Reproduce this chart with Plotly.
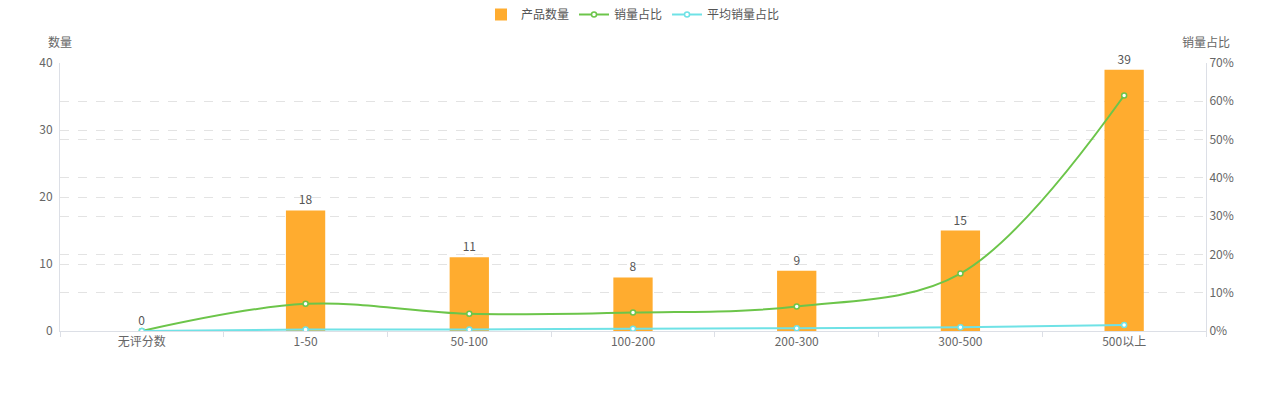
import plotly.graph_objects as go

categories = ["无评分数", "1-50", "50-100", "100-200", "200-300", "300-500", "500以上"]
product_counts = [0, 18, 11, 8, 9, 15, 39]
sales_share = [0.0, 7.1, 4.5, 4.8, 6.4, 15.0, 61.5]
avg_sales_share = [0.0, 0.39, 0.41, 0.6, 0.71, 1.0, 1.58]
left_ticks = [0, 10, 20, 30, 40]
right_ticks = [0, 10, 20, 30, 40, 50, 60, 70]

font_family = "Noto Sans CJK SC, Microsoft YaHei, sans-serif"
axis_color = "#dcdfe6"
grid_color = "#e3e3e3"
text_color = "#666666"

fig = go.Figure()
fig.add_trace(go.Bar(
    x=categories, y=product_counts, name="产品数量",
    marker=dict(color="#FFAC2F", line=dict(width=0)),
    width=0.24,
    text=[str(v) for v in product_counts], textposition="outside",
    textfont=dict(color="#555555", size=12), cliponaxis=False,
    yaxis="y",
))
fig.add_trace(go.Scatter(
    x=categories, y=sales_share, name="销量占比", mode="lines+markers",
    line=dict(color="#6cc54a", width=2, shape="spline", smoothing=1.0),
    marker=dict(symbol="circle", size=5, color="white", line=dict(color="#6cc54a", width=1.5)),
    yaxis="y2",
))
fig.add_trace(go.Scatter(
    x=categories, y=avg_sales_share, name="平均销量占比", mode="lines+markers",
    line=dict(color="#6fe2e6", width=2, shape="spline", smoothing=1.0),
    marker=dict(symbol="circle", size=5, color="white", line=dict(color="#6fe2e6", width=1.5)),
    yaxis="y2",
))

fig.update_layout(
    width=1278, height=400,
    margin=dict(l=60, r=72, t=63, b=69),
    paper_bgcolor="white", plot_bgcolor="white",
    font=dict(family=font_family, size=12, color=text_color),
    showlegend=True,
    legend=dict(orientation="h", x=0.5, xanchor="center", y=1.0, yref="container", yanchor="top",
                font=dict(size=12, color="#555555"), itemwidth=30, tracegroupgap=0),
    bargap=0.76,
    xaxis=dict(
        type="category", showline=True, linecolor=axis_color, linewidth=1,
        ticks="outside", tickson="boundaries", ticklen=5, tickcolor=axis_color,
        showgrid=False, tickfont=dict(color=text_color, size=12),
    ),
    yaxis=dict(
        range=[0, 40], tickvals=left_ticks, showline=True, linecolor=axis_color,
        showgrid=True, gridcolor=grid_color, griddash="dash", zeroline=False,
        tickfont=dict(color=text_color, size=12), ticks="", ticklabelstandoff=4,
    ),
    yaxis2=dict(
        range=[0, 70], tickvals=right_ticks, ticktext=[f"{v}%" for v in right_ticks],
        overlaying="y", side="right", showline=True, linecolor=axis_color,
        showgrid=True, gridcolor=grid_color, griddash="dash", zeroline=False,
        tickfont=dict(color=text_color, size=12), ticks="",
    ),
    annotations=[
        dict(text="数量", xref="paper", yref="paper", x=0.0, y=1.082, xanchor="center", yanchor="middle",
             showarrow=False, font=dict(color=text_color, size=12)),
        dict(text="销量占比", xref="paper", yref="paper", x=1.0, y=1.082, xanchor="center", yanchor="middle",
             showarrow=False, font=dict(color=text_color, size=12)),
    ],
)

fig.write_html("out.html")
